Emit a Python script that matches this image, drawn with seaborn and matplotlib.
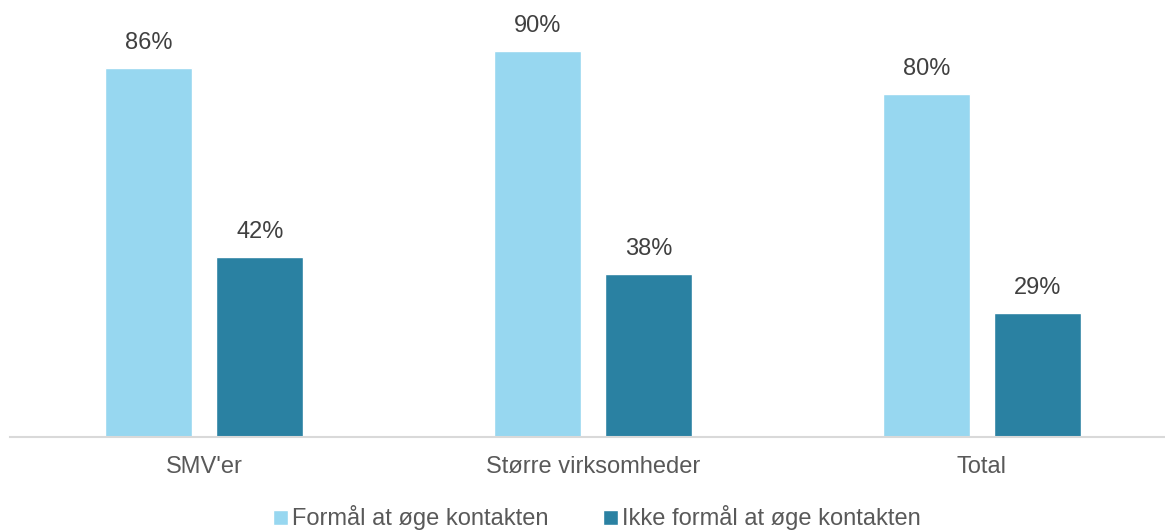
import matplotlib
matplotlib.use("Agg")
import matplotlib.pyplot as plt
import seaborn as sns
import pandas as pd

# Survey shares by company type
categories = ["SMV'er", "Større virksomheder", "Total"]
series_names = ["Formål at øge kontakten", "Ikke formål at øge kontakten"]
formaal = [86, 90, 80]
ikke_formaal = [42, 38, 29]

colors = ["#97D7F0", "#2A81A2"]
text_color = "#595959"
label_color = "#404040"

df = pd.DataFrame({
    "kategori": categories * 2,
    "serie": [series_names[0]] * 3 + [series_names[1]] * 3,
    "andel": formaal + ikke_formaal,
})

sns.set_theme(style="white")
plt.rcParams["font.family"] = ["Liberation Sans", "DejaVu Sans"]

fig = plt.figure(figsize=(11.65, 5.30), dpi=100)
ax = fig.add_axes([9.5 / 1165, 93 / 530, 1167 / 1165, 437 / 530])

sns.barplot(data=df, x="kategori", y="andel", hue="serie", palette=colors,
            width=0.573, gap=0.218, saturation=1, ax=ax, legend=True)

ax.set_xlim(-0.5, 2.5)
ax.set_ylim(0, 101.9)
ax.set_xlabel("")
ax.set_ylabel("")
ax.set_yticks([])
ax.tick_params(axis="x", length=0, pad=14, labelsize=17, labelcolor=text_color)
for side in ["top", "left", "right"]:
    ax.spines[side].set_visible(False)
ax.spines["bottom"].set_color("#D9D9D9")
ax.spines["bottom"].set_linewidth(1.5)

for container in ax.containers:
    ax.bar_label(container, labels=[f"{v:.0f}%" for v in container.datavalues],
                 padding=10, fontsize=17, color=label_color)

handles, labels = ax.get_legend_handles_labels()
ax.get_legend().remove()
fig.legend(handles, labels, loc="center", bbox_to_anchor=(597 / 1165, 1 - 518 / 530),
           ncol=2, frameon=False, fontsize=17, labelcolor=text_color,
           handlelength=0.62, handleheight=0.62, handletextpad=0.2,
           columnspacing=2.3, borderaxespad=0, borderpad=0)

fig.savefig("out.png", dpi=100)
